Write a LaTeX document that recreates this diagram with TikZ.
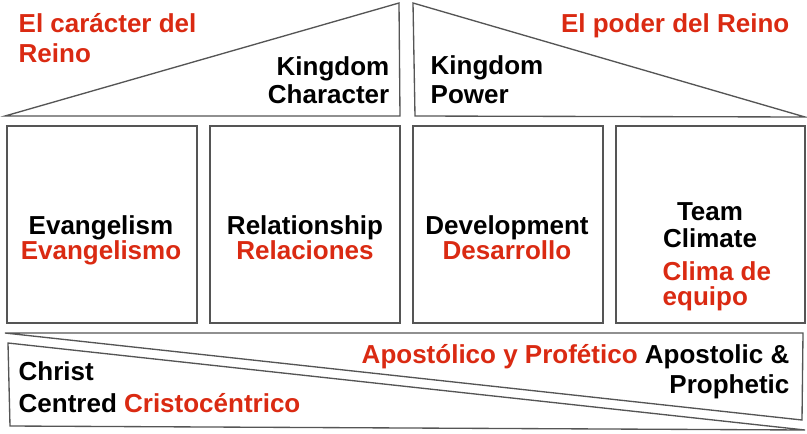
\documentclass[tikz,border=0pt]{standalone}
\usepackage{fontspec}
\setmainfont{Liberation Sans}
\definecolor{reinored}{RGB}{218,42,18}
\definecolor{edgegray}{RGB}{85,85,85}

\tikzset{every picture/.style={line width=1pt}}

\begin{document}
\begin{tikzpicture}[x=0.75pt,y=0.75pt,yscale=-1,xscale=1,
  lbl/.style={font=\fontsize{19.5}{21}\selectfont\bfseries, inner sep=0pt},
  rd/.style={lbl, text=reinored},
  shp/.style={draw=edgegray, fill=white}]
\path (0,0) rectangle (807,433); %set diagram size

%Shape: Triangle [left roof]
\draw [shp] (5,116) -- (399,3) -- (400,116) -- cycle ;
%Shape: Triangle [right roof]
\draw [shp] (413,3) -- (415,116) -- (805,117) -- cycle ;

%Shape: Rectangle
\draw [shp] (7,126) -- (197,126) -- (197,323) -- (7,323) -- cycle ;
%Shape: Rectangle
\draw [shp] (210,126) -- (400,126) -- (400,323) -- (210,323) -- cycle ;
%Shape: Rectangle
\draw [shp] (413,126) -- (603,126) -- (603,323) -- (413,323) -- cycle ;
%Shape: Rectangle
\draw [shp] (616,126) -- (805,126) -- (805,323) -- (616,323) -- cycle ;

%Shape: Triangle [upper base]
\draw [shp] (5,333) -- (803,333) -- (802,420) -- cycle ;
%Shape: Triangle [lower base]
\draw [shp] (8,343) -- (10,426) -- (805,430) -- cycle ;

% Text Node
\node (caracter1) [rd, anchor=base west] at (18,32) {El carácter del};
% Text Node
\node (caracter2) [rd, anchor=base west] at (18,62) {Reino};
% Text Node
\node (kchar1) [lbl, anchor=base east] at (390,75) {Kingdom};
% Text Node
\node (kchar2) [lbl, anchor=base east] at (390,103) {Character};
% Text Node
\node (poder) [rd, anchor=base east] at (790,32) {El poder del Reino};
% Text Node
\node (kpow1) [lbl, anchor=base west] at (430,74) {Kingdom};
% Text Node
\node (kpow2) [lbl, anchor=base west] at (430,103) {Power};

% Text Node
\node (evang) [lbl, anchor=base] at (101,234) {Evangelism};
% Text Node
\node (evanges) [rd, anchor=base] at (101,259) {Evangelismo};
% Text Node
\node (relat) [lbl, anchor=base] at (305,234) {Relationship};
% Text Node
\node (relates) [rd, anchor=base] at (305,259) {Relaciones};
% Text Node
\node (devel) [lbl, anchor=base] at (507,234) {Development};
% Text Node
\node (deveses) [rd, anchor=base] at (507,259) {Desarrollo};
% Text Node
\node (team1) [lbl, anchor=base] at (710,220) {Team};
% Text Node
\node (team2) [lbl, anchor=base] at (710,247) {Climate};
% Text Node
\node (clima1) [rd, anchor=base west] at (662,280) {Clima de};
% Text Node
\node (clima2) [rd, anchor=base west] at (662,305) {equipo};

% Text Node
\node (apost1) [lbl, anchor=base east] at (790,363) {\textcolor{reinored}{Apostólico y Profético} Apostolic \&};
% Text Node
\node (apost2) [lbl, anchor=base east] at (790,393) {Prophetic};
% Text Node
\node (christ1) [lbl, anchor=base west] at (18,380) {Christ};
% Text Node
\node (christ2) [lbl, anchor=base west] at (18,412) {Centred \textcolor{reinored}{Cristocéntrico}};

\end{tikzpicture}
\end{document}
